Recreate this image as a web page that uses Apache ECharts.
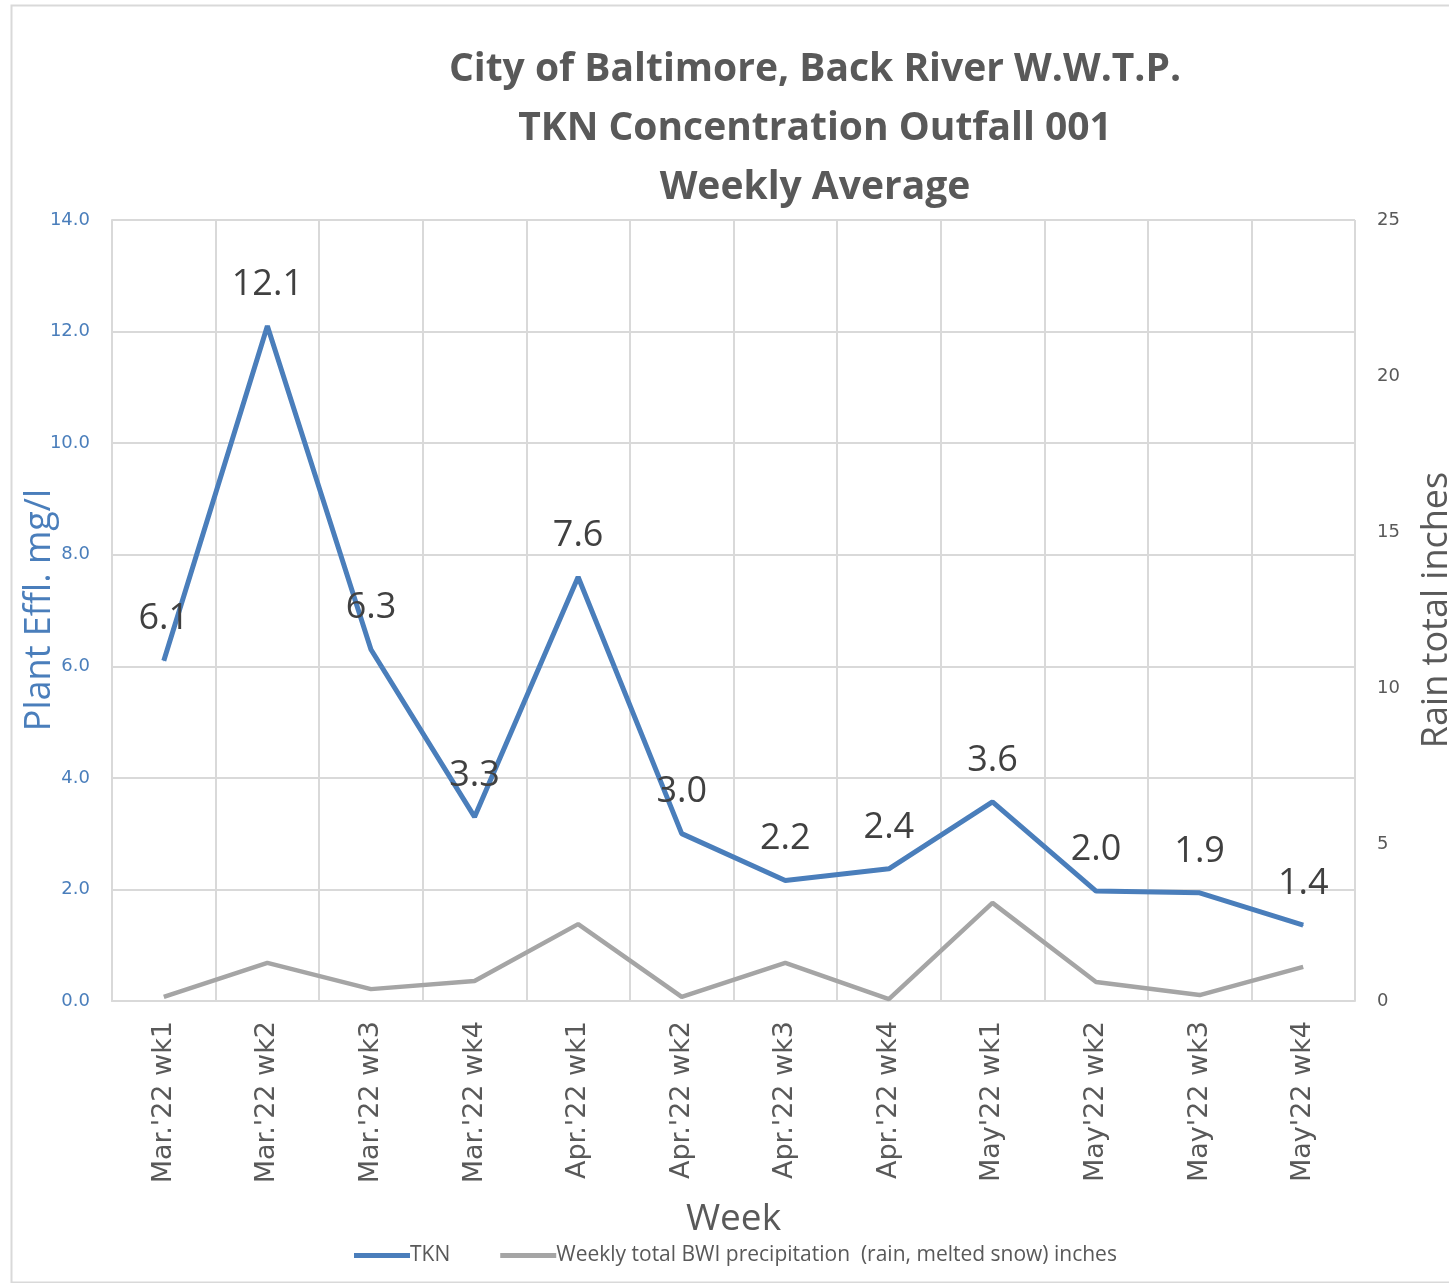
<!DOCTYPE html>
<html>
<head>
<meta charset="utf-8">
<script src="https://cdn.jsdelivr.net/npm/echarts@6/dist/echarts.min.js"></script>
<style>
html,body{margin:0;padding:0;background:#fff;}
#chart{width:1449px;height:1283px;}
</style>
</head>
<body>
<div id="chart"></div>
<script>
var weeks = ["Mar.'22 wk1","Mar.'22 wk2","Mar.'22 wk3","Mar.'22 wk4","Apr.'22 wk1","Apr.'22 wk2","Apr.'22 wk3","Apr.'22 wk4","May'22 wk1","May'22 wk2","May'22 wk3","May'22 wk4"];
var tkn = [6.1, 12.1, 6.3, 3.3, 7.6, 3.0, 2.16, 2.37, 3.57, 1.97, 1.94, 1.36];
var precip = [0.13, 1.22, 0.38, 0.64, 2.46, 0.13, 1.22, 0.06, 3.14, 0.61, 0.19, 1.09];
var titleLines = ["City of Baltimore, Back River W.W.T.P.", "TKN Concentration Outfall 001", "Weekly Average"];

var NARROW = "'Open Sans', sans-serif";
var WIDE = "'DejaVu Sans', Verdana, sans-serif";

var chart = echarts.init(document.getElementById('chart'));
chart.setOption({
  backgroundColor: '#fff',
  animation: false,
  title: {
    text: titleLines.join('\n'),
    left: 810, top: 35, textAlign: 'center',
    textStyle: { fontFamily: NARROW, fontWeight: 'bold', fontSize: 39, lineHeight: 59, color: '#595959' }
  },
  grid: { left: 112, right: 94, top: 220, bottom: 282, containLabel: false },
  legend: {
    left: 349, top: 1240,
    itemWidth: 56, itemHeight: 5, itemGap: 50,
    icon: 'rect',
    textStyle: { fontFamily: NARROW, fontSize: 21, color: '#595959', padding: [0,0,0,-5] },
    data: ['TKN', 'Weekly total BWI precipitation  (rain, melted snow) inches']
  },
  xAxis: {
    type: 'category', data: weeks, boundaryGap: true,
    axisLine: { lineStyle: { color: '#d9d9d9', width: 2 } },
    axisTick: { show: false },
    splitLine: { show: true, interval: 0, lineStyle: { color: '#d9d9d9', width: 2 } },
    axisLabel: { rotate: 90, interval: 0, margin: 20, fontFamily: WIDE, fontSize: 27, color: '#595959' },
    name: 'Week', nameLocation: 'middle', nameGap: 200,
    nameTextStyle: { fontFamily: NARROW, fontSize: 37, color: '#595959' }
  },
  yAxis: [
    {
      type: 'value', min: 0, max: 14, interval: 2, position: 'left',
      axisLine: { show: true, lineStyle: { color: '#d9d9d9', width: 2 } },
      axisTick: { show: false },
      splitLine: { show: true, lineStyle: { color: '#d9d9d9', width: 2 } },
      axisLabel: { margin: 22, fontFamily: WIDE, fontSize: 18, color: '#4a7ebb', formatter: function (v) { return v.toFixed(1); } }
    },
    {
      type: 'value', min: 0, max: 25, interval: 5, position: 'right',
      axisLine: { show: false }, axisTick: { show: false }, splitLine: { show: false },
      axisLabel: { margin: 22, fontFamily: WIDE, fontSize: 18, color: '#595959' }
    }
  ],
  graphic: [
    { type: 'rect', left: 9, top: 3, shape: { width: 1480, height: 1277 }, style: { fill: 'none', stroke: '#d9d9d9', lineWidth: 2 }, silent: true, z: -1 },
    { type: 'text', x: 40, y: 610, rotation: Math.PI / 2,
      style: { text: 'Plant Effl. mg/l', fontFamily: NARROW, fontSize: 36, fill: '#4a7ebb', textAlign: 'center', textVerticalAlign: 'middle' } },
    { type: 'text', x: 1437, y: 610, rotation: Math.PI / 2,
      style: { text: 'Rain total inches', fontFamily: NARROW, fontSize: 36, fill: '#595959', textAlign: 'center', textVerticalAlign: 'middle' } }
  ],
  series: [
    {
      name: 'TKN', type: 'line', data: tkn, yAxisIndex: 0,
      symbol: 'circle', symbolSize: 1, showSymbol: true, z: 3,
      lineStyle: { color: '#4a7ebb', width: 5 }, itemStyle: { color: '#4a7ebb' },
      label: { show: true, position: 'top', distance: 23, fontFamily: NARROW, fontSize: 36, color: '#404040',
        formatter: function (p) { return Number(p.value).toFixed(1); } },
      labelLayout: { hideOverlap: false }
    },
    {
      name: 'Weekly total BWI precipitation  (rain, melted snow) inches', type: 'line', data: precip, yAxisIndex: 1,
      symbol: 'none', z: 2,
      lineStyle: { color: '#a5a5a5', width: 4.5 }, itemStyle: { color: '#a5a5a5' }
    }
  ]
});
</script>
</body>
</html>
